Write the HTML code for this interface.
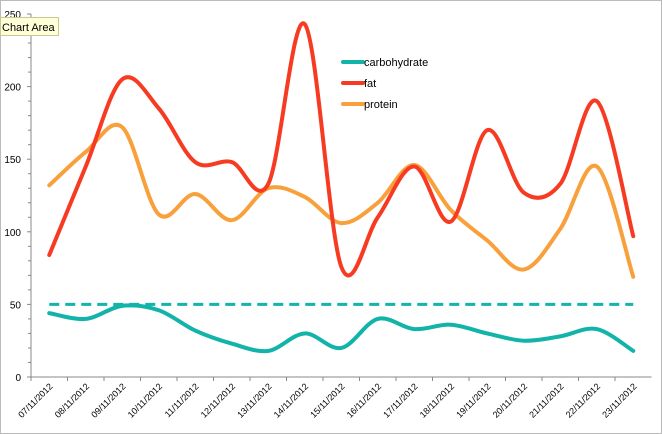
<!DOCTYPE html>
<html><head><meta charset="utf-8"><style>
html,body{margin:0;padding:0;background:#fff;}
svg{display:block;font-family:"Liberation Sans",sans-serif;}
</style></head><body>
<svg id="chart" width="662" height="434">
<rect x="0.5" y="0.5" width="661" height="433" fill="#fff" stroke="#bbb"/>
<g id="axes"></g><g id="series"></g>
<g>
 <line x1="343" y1="62" x2="363" y2="62" stroke="#12b3a8" stroke-width="4" stroke-linecap="round"/>
 <text x="364" y="66" font-size="11">carbohydrate</text>
 <line x1="343" y1="83" x2="363" y2="83" stroke="#f73b22" stroke-width="4" stroke-linecap="round"/>
 <text x="364" y="87" font-size="11">fat</text>
 <line x1="343" y1="104" x2="363" y2="104" stroke="#f8a13c" stroke-width="4" stroke-linecap="round"/>
 <text x="364" y="108" font-size="11">protein</text>
</g>
<g>
 <rect x="0.5" y="17.5" width="58" height="18" fill="#ffffd8" stroke="#c8c890"/>
 <text x="2" y="31" font-size="11">Chart Area</text>
</g>
</svg>
<script>
const categories=["07/11/2012","08/11/2012","09/11/2012","10/11/2012","11/11/2012","12/11/2012","13/11/2012","14/11/2012","15/11/2012","16/11/2012","17/11/2012","18/11/2012","19/11/2012","20/11/2012","21/11/2012","22/11/2012","23/11/2012"];
const carbohydrate=[44,40,49,46,32,23,18,30,20,40,33,36,30,25,28,33,18];
const fat=[84,145,205,185,148,148,133,243,76,110,145,107,170,127,133,190,97];
const protein=[132,155,172,112,126,108,130,124,106,120,146,115,94,74,102,145,69];
const target=[50];
const yTicks=[0,50,100,150,200,250];
const NS="http://www.w3.org/2000/svg";
const X0=31,X1=651.5,Y0=377,Y1=14,YMAX=250;
const step=(X1-X0)/categories.length;
const xs=i=>X0+step*(i+0.5);
const ys=v=>Y0-(v/YMAX)*(Y0-Y1);
const axes=document.getElementById('axes'),ser=document.getElementById('series');
function mk(tag,attrs,parent){const e=document.createElementNS(NS,tag);for(const k in attrs)e.setAttribute(k,attrs[k]);parent.appendChild(e);return e;}
let e=mk('line',{x1:X0,y1:Y1,x2:X0,y2:Y0,stroke:'#888'},axes);


e=mk('line',{x1:X0,y1:Y0,x2:X1,y2:Y0,stroke:'#888'},axes);


for(let v=0;v<=YMAX;v+=10){mk('line',{x1:X0-(v%50?3:4),y1:ys(v),x2:X0,y2:ys(v),stroke:'#888'},axes);}
yTicks.forEach(v=>{const t=mk('text',{x:X0-10,y:ys(v)+4,'font-size':'10','text-anchor':'end'},axes);t.textContent=v;

});
categories.forEach((c,i)=>{mk('line',{x1:X0+step*i,y1:Y0,x2:X0+step*i,y2:Y0+4,stroke:'#888'},axes);
const x=xs(i)+4,y=Y0+10;
const t=mk('text',{x:x,y:y,'font-size':'9','text-anchor':'end',transform:`rotate(-45 ${x} ${y})`},axes);t.textContent=c;

});
function smooth(vals){const p=vals.map((v,i)=>[xs(i),ys(v)]);let d=`M${p[0][0]},${p[0][1]}`;
for(let i=0;i<p.length-1;i++){const a=p[i-1]||p[i],b=p[i],c=p[i+1],n=p[i+2]||c;
const c1=[b[0]+(c[0]-a[0])/6,b[1]+(c[1]-a[1])/6],c2=[c[0]-(n[0]-b[0])/6,c[1]-(n[1]-b[1])/6];
d+=` C${c1[0]},${c1[1]} ${c2[0]},${c2[1]} ${c[0]},${c[1]}`;}return d;}
e=mk('line',{x1:xs(0),y1:ys(target[0]),x2:xs(categories.length-1),y2:ys(target[0]),stroke:'#12b3a8','stroke-width':3,'stroke-dasharray':'10,6'},ser);


[[protein,'#f8a13c','protein-line'],[fat,'#f73b22','fat-line'],[carbohydrate,'#12b3a8','carbohydrate-line']].forEach(([v,c,n])=>{
const p=mk('path',{d:smooth(v),fill:'none',stroke:c,'stroke-width':4,'stroke-linejoin':'round','stroke-linecap':'round'},ser);

});
</script>
</body></html>
